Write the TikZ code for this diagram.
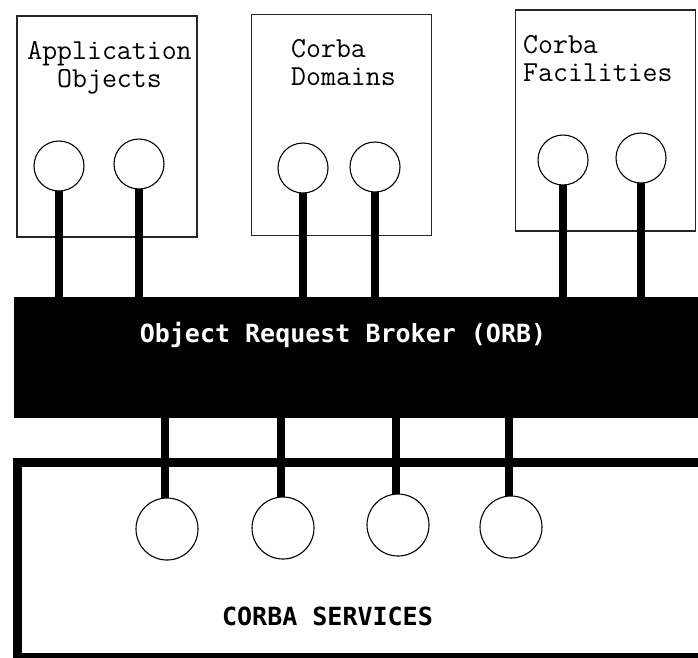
\documentclass[tikz,border=0pt]{standalone}
\usepackage{fontspec}
\newfontfamily\orbfont{DejaVu Sans Mono}
\usepackage{tikz}
\usetikzlibrary{positioning}

\begin{document}
\begin{tikzpicture}[
    x=1pt, y=-1pt,
    compbox/.style={draw=black!85, line width=1.2pt, minimum width=180pt, minimum height=221pt, inner sep=0pt, outer sep=0pt},
    port/.style={draw, circle, line width=1.1pt, minimum size=50pt, inner sep=0pt, outer sep=0pt},
    bigport/.style={port, minimum size=62pt},
    busbar/.style={fill=black, minimum width=696pt, minimum height=121pt, inner sep=0pt, outer sep=0pt},
    servicebox/.style={draw, line width=9pt, minimum width=702pt, minimum height=195pt, inner sep=0pt, outer sep=0pt},
    stem/.style={line width=8.5pt},
    boxtext/.style={font=\ttfamily\fontsize{29}{28}\selectfont, inner sep=0pt},
    bustext/.style={font=\orbfont\bfseries\fontsize{25}{25}\selectfont, inner sep=0pt, anchor=base}
]
    \clip (0,0) rectangle (698,657);

    % --- Component Boxes ---
    \node (app) [compbox] at (107,126.5) {};
    \node (dom) [compbox] at (341.5,125) {};
    \node (fac) [compbox] at (605.5,120.5) {};

    \node (app_label) [boxtext, align=center, anchor=north] at (109.5,41) {Application\\Objects};
    \node (dom_label) [boxtext, align=left, anchor=north west] at (291,39) {Corba\\Domains};
    \node (fac_label) [boxtext, align=left, anchor=north west] at (523,35) {Corba\\Facilities};

    % Ports of the boxes
    \node (a1) [port] at (59,166) {};
    \node (a2) [port] at (139,164) {};
    \node (d1) [port] at (303,168) {};
    \node (d2) [port] at (375,167) {};
    \node (f1) [port] at (563,160) {};
    \node (f2) [port] at (641,158) {};

    % --- Broker ---
    \node (orb) [busbar] at (362,357.5) {};
    \node (orb_label) [bustext, text=white] at (343,342) {Object Request Broker (ORB)};

    % --- Services ---
    \node (svc) [servicebox] at (368.75,560) {};
    \node (svc_label) [bustext] at (327.5,625) {CORBA SERVICES};

    \node (s1) [bigport] at (167,529) {};
    \node (s2) [bigport] at (283,528) {};
    \node (s3) [bigport] at (398,525) {};
    \node (s4) [bigport] at (511,527) {};

    % --- Connections ---
    \foreach \p in {a1, a2, d1, d2, f1, f2}
        \draw [stem] (\p.south) -- (\p.south |- orb.north);
    \foreach \p in {s1, s2, s3, s4}
        \draw [stem] ([xshift=-2pt]\p.north |- orb.south) -- ([xshift=-2pt]\p.north);

\end{tikzpicture}
\end{document}
